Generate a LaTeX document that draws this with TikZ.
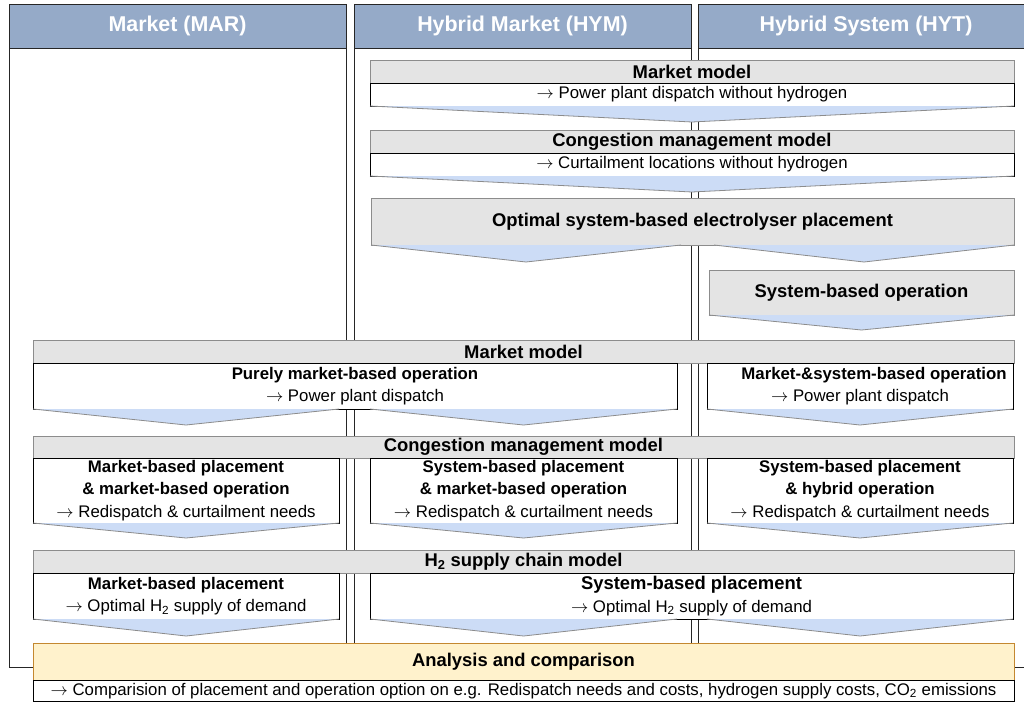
\documentclass[tikz,border=0pt]{standalone}
\usepackage{fontspec}
\setmainfont{Liberation Sans}
\usetikzlibrary{shadows}
\definecolor{colhdr}{RGB}{149,170,200}
\definecolor{boxgray}{RGB}{228,228,228}
\definecolor{grayline}{RGB}{140,140,140}
\definecolor{chevblue}{RGB}{204,220,246}
\definecolor{anafill}{RGB}{255,242,204}
\definecolor{anaedge}{RGB}{196,136,48}
\tikzset{
  colbox/.style={draw=black!85, line width=1pt, fill=white},
  colhead/.style={draw=black!85, line width=1pt, fill=colhdr, text=white, font=\fontsize{21.4}{25}\selectfont\bfseries},
  graybox/.style={draw=grayline, line width=1pt, fill=boxgray, font=\fontsize{18.4}{22}\selectfont\bfseries},
  whitebox/.style={draw=black, line width=0.9pt, fill=white, font=\fontsize{16.8}{22.5}\selectfont, align=center,
    drop shadow={shadow xshift=0.8pt, shadow yshift=-0.9pt, fill=black!75, opacity=1}},
  anabox/.style={draw=anaedge, line width=1pt, fill=anafill, font=\fontsize{18.4}{22}\selectfont\bfseries},
  chevfill/.style={fill=chevblue},
  chevedge/.style={draw=grayline, line width=0.8pt},
}
% name, style, x1, y1, x2, y2
\newcommand\bx[6]{\node[#2, inner sep=0pt, minimum width={#5pt-#3pt}, minimum height={#6pt-#4pt}] (#1) at ({(#3+#5)/2},{(#4+#6)/2})}
% x1, x2, ytop, ytip
\newcommand\chev[4]{%
  \fill[chevfill] (#1,#3) -- (#2,#3) -- ({(#1+#2)/2},#4) -- cycle;
  \draw[chevedge] (#1,#3) -- ({(#1+#2)/2},#4) -- (#2,#3);}
\newcommand\arr{$\rightarrow$}
\newcommand\bigb[1]{{\fontsize{18.4}{22.5}\selectfont\bfseries #1}}
\begin{document}
\begin{tikzpicture}[x=1pt,y=-1pt]
\useasboundingbox (0,0) rectangle (1024,702);
% columns
\bx{colmar}{colbox}{9}{4}{346}{667} {};
\bx{colhym}{colbox}{354}{4}{691}{667} {};
\bx{colhyt}{colbox}{698}{4}{1034}{667} {};
\bx{hmar}{colhead}{9}{4}{346}{48.5} {Market (MAR)};
\bx{hhym}{colhead}{354}{4}{691}{48.5} {Hybrid Market (HYM)};
\bx{hhyt}{colhead}{698}{4}{1034}{48.5} {Hybrid System (HYT)};
% top section
\bx{mmA}{graybox}{370}{60}{1014}{83} {Market model};
\bx{mmAw}{whitebox}{370}{83}{1014}{106} {\arr{} Power plant dispatch without hydrogen};
\chev{370}{1014}{106}{122}
\bx{cmA}{graybox}{370}{130}{1014}{153} {Congestion management model};
\bx{cmAw}{whitebox}{370}{153}{1014}{176} {\arr{} Curtailment locations without hydrogen};
\chev{370}{1014}{176}{192}
\bx{opt}{graybox}{371}{198}{1014}{245} {Optimal system-based electrolyser placement};
\chev{371}{681}{245}{262}
\chev{714}{1014}{245}{262}
\bx{sbo}{graybox}{709}{270}{1014}{315} {System-based operation};
\chev{709}{1014}{315}{330}
% market model
\bx{mmB}{graybox}{33}{340}{1014}{363} {Market model};
\bx{mmBl}{whitebox}{33}{363}{677}{409} {\textbf{Purely market-based operation}\\\arr{} Power plant dispatch};
\bx{mmBr}{whitebox}{707}{363}{1013}{409} {\hspace*{28pt}\textbf{Market-\&system-based operation}\\\arr{} Power plant dispatch};
\chev{33}{339}{409}{425}
\chev{370}{677}{409}{425}
\chev{707}{1013}{409}{425}
% congestion management
\bx{cmB}{graybox}{33}{436}{1014}{458} {Congestion management model};
\bx{cmBl}{whitebox}{33}{458}{339}{523} {\textbf{Market-based placement}\\\textbf{\& market-based operation}\\\arr{} Redispatch \& curtailment needs};
\bx{cmBm}{whitebox}{370}{458}{677}{523} {\textbf{System-based placement}\\\textbf{\& market-based operation}\\\arr{} Redispatch \& curtailment needs};
\bx{cmBr}{whitebox}{707}{458}{1013}{523} {\textbf{System-based placement}\\\textbf{\& hybrid operation}\\\arr{} Redispatch \& curtailment needs};
\chev{33}{339}{523}{538}
\chev{370}{677}{523}{538}
\chev{707}{1013}{523}{538}
% H2 supply chain
\bx{hc}{graybox}{33}{550}{1014}{573} {H\textsubscript{2} supply chain model};
\bx{hcl}{whitebox}{33}{573}{339}{619} {\textbf{Market-based placement}\\\arr{} Optimal H\textsubscript{2} supply of demand};
\bx{hcr}{whitebox}{370}{573}{1013}{619} {\bigb{System-based placement}\\\arr{} Optimal H\textsubscript{2} supply of demand};
\chev{33}{339}{619}{636}
\chev{370}{677}{619}{636}
\chev{707}{1013}{619}{636}
% analysis
\bx{ana}{anabox}{33}{643}{1014}{680} {Analysis and comparison};
\bx{anaw}{whitebox}{33}{680}{1014}{701.5} {\arr{} Comparision of placement and operation option on e.g. Redispatch needs and costs, hydrogen supply costs, CO\textsubscript{2} emissions};
\end{tikzpicture}
\end{document}
